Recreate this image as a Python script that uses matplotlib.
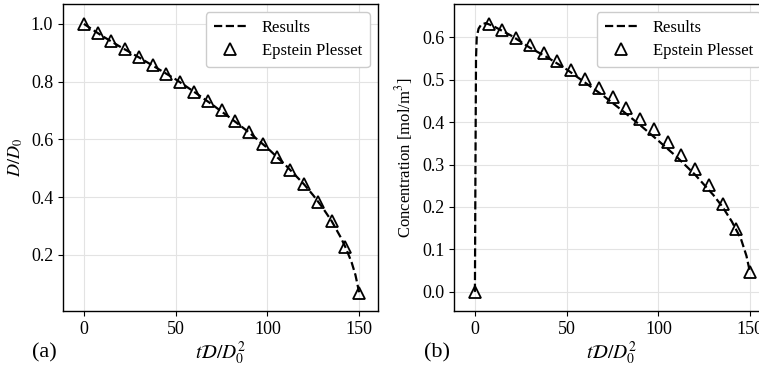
import numpy as np
import matplotlib
matplotlib.use("Agg")
import matplotlib.pyplot as plt

plt.rcParams['font.family'] = ['Liberation Serif', 'DejaVu Serif']
plt.rcParams['mathtext.fontset'] = 'stix'

### Epstein Plesset reference points (shared time axis)
ep_t = [0, 7.5, 15, 22.5, 30, 37.5, 45, 52.5, 60, 67.5, 75, 82.5, 90, 97.5,
        105, 112.5, 120, 127.5, 135, 142.5, 150]
ep_diam = [1.0, 0.968, 0.940, 0.912, 0.884, 0.857, 0.827, 0.797, 0.765, 0.733,
           0.700, 0.662, 0.624, 0.584, 0.540, 0.494, 0.444, 0.384, 0.317, 0.228, 0.066]
ep_conc = [0.0, 0.630, 0.617, 0.599, 0.581, 0.562, 0.543, 0.523, 0.502, 0.481,
           0.458, 0.434, 0.408, 0.383, 0.354, 0.323, 0.289, 0.252, 0.207, 0.148, 0.046]

### Simulation results
res_t_diam = [0, 10, 20, 30, 40, 50, 60, 70, 80, 90, 100, 110, 120, 125, 130,
              135, 140, 143, 146, 148, 150]
res_diam = [1.0, 0.958, 0.920, 0.884, 0.846, 0.808, 0.765, 0.720, 0.673, 0.624,
            0.570, 0.510, 0.444, 0.406, 0.364, 0.317, 0.260, 0.220, 0.172, 0.130, 0.07]

res_t_conc = [0, 0.3, 0.6, 1.0, 2.0, 3.5, 6, 10, 20, 30, 40, 50, 60, 70, 80, 90,
              100, 110, 120, 130, 135, 140, 145, 148, 150]
res_conc = [0.0, 0.30, 0.55, 0.60, 0.62, 0.630, 0.633, 0.626, 0.603, 0.575, 0.551,
            0.524, 0.493, 0.462, 0.428, 0.393, 0.356, 0.318, 0.276, 0.228, 0.200,
            0.166, 0.125, 0.085, 0.045]

xlabel = r"$t\mathcal{D}/D_0^2$"
FS = 13

fig = plt.figure(figsize=(7.59, 3.69), dpi=100)
W, H = 759.0, 369.0
ax1 = fig.add_axes([63 / W, (H - 311) / H, 315 / W, 307 / H])
ax2 = fig.add_axes([454 / W, (H - 311) / H, 315 / W, 307 / H])

def style(ax):
    ax.grid(True, color='#e3e3e3', linewidth=0.8)
    ax.set_axisbelow(True)
    ax.tick_params(axis='both', labelsize=FS, direction='out', length=3.5, width=0.8)
    for s in ax.spines.values():
        s.set_linewidth(1.0)
    ax.set_xticks([0, 50, 100, 150])
    ax.set_xlim(-11.4, 160.3)
    ax.set_xlabel(xlabel, fontsize=14, labelpad=1)
    ax.legend(loc='upper right', fontsize=12, framealpha=1, edgecolor='#cccccc',
              handlelength=2.0, borderpad=0.45, labelspacing=0.45,
              handletextpad=0.9)

ax1.plot(res_t_diam, res_diam, 'k--', lw=1.6, label='Results')
ax1.plot(ep_t, ep_diam, '^', ms=9, mfc='none', mec='k', mew=1.3, ls='none',
         label='Epstein Plesset')
ax1.set_ylim(0.005, 1.069)
ax1.set_yticks([0.2, 0.4, 0.6, 0.8, 1.0])
ax1.set_ylabel(r"$D/D_0$", fontsize=FS, labelpad=4)
style(ax1)

ax2.plot(res_t_conc, res_conc, 'k--', lw=1.6, label='Results')
ax2.plot(ep_t, ep_conc, '^', ms=9, mfc='none', mec='k', mew=1.3, ls='none',
         label='Epstein Plesset')
ax2.set_ylim(-0.045, 0.678)
ax2.set_yticks([0.0, 0.1, 0.2, 0.3, 0.4, 0.5, 0.6])
ax2.set_ylabel(r"Concentration [mol/m$^3$]", fontsize=12, labelpad=5)
style(ax2)

fig.text(32 / W, 1 - 353 / H, '(a)', fontsize=16, va='center', ha='left')
fig.text(424 / W, 1 - 353 / H, '(b)', fontsize=16, va='center', ha='left')

fig.savefig('out.png', dpi=100)
